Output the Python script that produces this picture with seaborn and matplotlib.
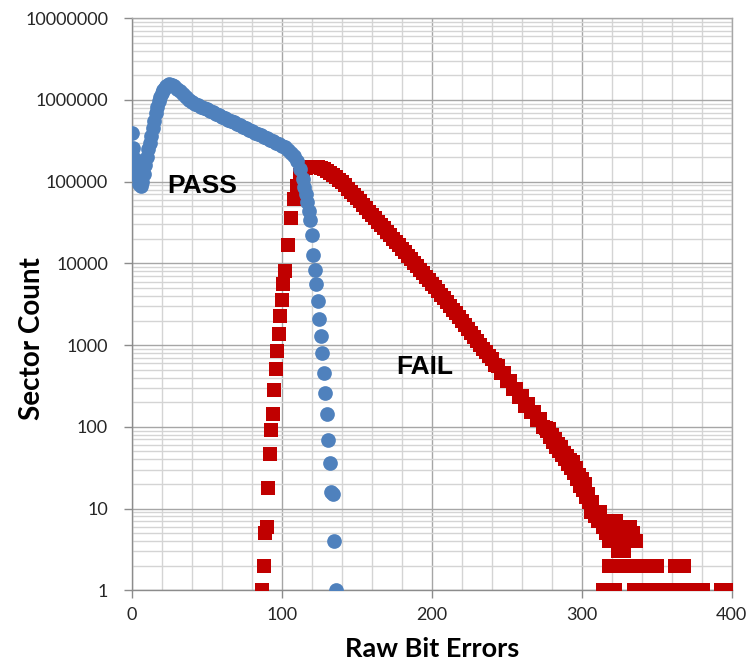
import numpy as np
import pandas as pd
import matplotlib
matplotlib.use("Agg")
import matplotlib.pyplot as plt
import seaborn as sns

# ---------------- data ----------------
pass_x = [0, 1, 2, 3, 4, 5, 6, 7, 8, 9, 10, 11, 12, 13, 14, 15, 16, 17, 18, 19,
          20, 21, 22, 23, 24, 25, 26, 27, 28, 30, 32, 34, 36, 38, 40, 42, 44, 46,
          48, 50, 52, 54, 56, 58, 60, 62, 64, 66, 68, 70, 72, 74, 76, 78, 80, 82,
          84, 86, 88, 90, 92, 94, 96, 98, 100, 102, 104, 106, 108, 110, 112, 114,
          115, 116, 117, 118, 119, 120, 121, 122, 123, 124, 125, 126, 127, 128,
          129, 130, 131, 132, 133, 134, 135, 136]
pass_y = [390000, 255000, 190000, 145000, 115000, 95000, 88000, 100000, 125000,
          160000, 200000, 250000, 300000, 360000, 450000, 560000, 690000, 830000,
          970000, 1100000, 1220000, 1330000, 1420000, 1490000, 1530000, 1550000,
          1540000, 1510000, 1470000, 1380000, 1280000, 1180000, 1090000, 1010000,
          950000, 900000, 860000, 830000, 800000, 767000, 738000, 708000, 680000,
          653000, 626000, 601000, 577000, 553000, 531000, 510000, 490000, 470000,
          451000, 433000, 416000, 399000, 383000, 368000, 353000, 340000, 326000,
          313000, 300000, 288000, 275000, 263000, 245000, 224000, 204000, 178000,
          145000, 107000, 87000, 71000, 56000, 44000, 34000, 22000, 12600, 8400,
          5560, 3470, 2110, 1290, 800, 450, 260, 145, 68, 36, 16, 15, 4, 1]

fail_x = [87, 88, 89, 90, 91, 92, 93, 94, 95, 96, 97, 98, 99, 100, 101,
          102, 104, 106, 108, 110, 112, 114, 116, 118, 120, 122, 124, 126, 128,
          130, 132, 134, 136, 138, 140, 142, 144, 146, 148, 150, 152, 154, 156,
          158, 160, 162, 164, 166, 168, 170, 172, 174, 176, 178, 180, 182, 184,
          186, 188, 190, 192, 194, 196, 198, 200, 202, 204, 206, 208, 210, 212,
          214, 216, 218, 220, 222, 224, 226, 228, 230, 232, 234, 236, 238, 240,
          242, 244, 246, 248, 250, 252, 254, 256, 258, 260, 262, 264, 266, 268,
          270, 272, 274, 276,
          277, 278, 279, 280, 281, 282, 283, 284, 285, 286, 287, 288, 289, 290,
          291, 292, 293, 294, 295, 296, 297, 298, 299, 300, 301, 302, 303, 304,
          305, 306, 307, 308, 309, 310, 311, 312, 313, 314, 315, 316, 317, 318,
          319, 320, 321, 322, 323, 324, 325, 326, 327, 328, 329, 330, 331, 332,
          333, 334, 335, 336,
          318, 320, 322, 324, 326, 328, 330, 332, 334, 336, 338, 340, 342, 344,
          346, 348, 350, 362, 364, 366, 368,
          314, 316, 318, 320, 322, 335, 337, 339, 341, 343, 345, 347, 349, 351,
          353, 355, 357, 359, 361, 363, 365, 367, 369, 371, 373, 375, 377, 379,
          381, 393, 395, 397, 399, 400]
fail_y = [1, 2, 5, 6, 18, 47, 91, 145, 285, 510, 850, 1380, 2280, 3600, 5650,
          8000, 17000, 35500, 62000, 89000, 120000, 141000, 148000, 151000,
          151000, 151000, 150000, 148000, 143000, 136000, 129000, 122000, 114000,
          106000, 98000, 90000, 82000, 75000, 69000, 63000, 57400, 52100, 47400,
          43100, 39200, 35600, 32400, 29400, 26800, 24400, 22100, 20100, 18300,
          16600, 15100, 13700, 12400, 11300, 10200, 9270, 8400, 7600, 6890, 6220,
          5620, 5080, 4590, 4150, 3750, 3390, 3030, 2720, 2440, 2180, 1950, 1750,
          1570, 1410, 1260, 1130, 1010, 908, 815, 731, 680, 570, 560, 450, 450,
          360, 360, 290, 290, 230, 235, 180, 190, 150, 150, 120, 125, 100, 98,
          90, 95, 75, 80, 65, 70, 57, 62, 50, 57, 45, 48, 40, 44,
          35, 39, 31, 37, 27, 31, 23, 26, 19, 23, 17, 20, 14, 15,
          12, 9, 12, 9, 8, 9, 7, 9, 7, 6, 7, 5, 7, 4,
          6, 7, 5, 6, 7, 3, 4, 3, 5, 3, 4, 5, 4, 6,
          4, 5, 4, 4,
          2, 2, 2, 2, 2, 2, 2, 2, 2, 2, 2, 2, 2, 2,
          2, 2, 2, 2, 2, 2, 2,
          1, 1, 1, 1, 1, 1, 1, 1, 1, 1, 1, 1, 1, 1,
          1, 1, 1, 1, 1, 1, 1, 1, 1, 1, 1, 1, 1, 1,
          1, 1, 1, 1, 1, 1]

x_ticks = [0, 100, 200, 300, 400]
x_minor = [20, 40, 60, 80, 120, 140, 160, 180, 220, 240, 260, 280, 320, 340, 360, 380]
y_ticks = [1, 10, 100, 1000, 10000, 100000, 1000000, 10000000]
y_tick_labels = ["1", "10", "100", "1000", "10000", "100000", "1000000", "10000000"]

# ---------------- plotting ----------------
sns.set_theme(style="white")
plt.rcParams["font.family"] = ["Lato", "DejaVu Sans"]

W, H = 749, 662
fig = plt.figure(figsize=(W / 100, H / 100), dpi=100)
left, right, top, bottom = 131.7, 731.7, 18.3, 590.2
ax = fig.add_axes([left / W, 1 - bottom / H, (right - left) / W, (bottom - top) / H])

fail_df = pd.DataFrame({"Raw Bit Errors": fail_x, "Sector Count": fail_y})
pass_df = pd.DataFrame({"Raw Bit Errors": pass_x, "Sector Count": pass_y})

ax.set_yscale("log")
sns.scatterplot(data=fail_df, x="Raw Bit Errors", y="Sector Count", marker="s",
                color="#C00000", s=100, linewidth=0, ax=ax, legend=False, zorder=3)
sns.scatterplot(data=pass_df, x="Raw Bit Errors", y="Sector Count", marker="o",
                color="#4F81BD", s=112, linewidth=0, ax=ax, legend=False, zorder=4)

ax.set_xlim(0, 400)
ax.set_ylim(1, 1e7)
ax.set_xticks(x_ticks)
ax.set_xticks(x_minor, minor=True)
ax.set_yticks(y_ticks)
ax.set_yticklabels(y_tick_labels)
ax.yaxis.set_minor_locator(matplotlib.ticker.LogLocator(base=10, subs=np.arange(2, 10)))
ax.yaxis.set_minor_formatter(matplotlib.ticker.NullFormatter())

ax.set_axisbelow(True)
ax.grid(which="major", color="#A6A6A6", linewidth=1.0)
ax.grid(which="minor", color="#D4D4D4", linewidth=1.0)

for side in ["top", "right"]:
    ax.spines[side].set_color("#A6A6A6")
    ax.spines[side].set_linewidth(1.0)
for side in ["left", "bottom"]:
    ax.spines[side].set_color("#8C8C8C")
    ax.spines[side].set_linewidth(1.0)

ax.tick_params(axis="y", which="major", direction="out", length=6, width=1,
               color="#8C8C8C", labelsize=13, labelcolor="#262626", pad=11, left=True)
ax.tick_params(axis="x", which="major", direction="out", length=6, width=1,
               color="#8C8C8C", labelsize=13, labelcolor="#262626", pad=6, bottom=True)
ax.tick_params(which="minor", length=0)

ax.set_xlabel("Raw Bit Errors", fontsize=19.5, fontweight="bold", color="#000000")
ax.set_ylabel("Sector Count", fontsize=20, fontweight="bold", color="#000000")
ax.xaxis.set_label_coords(0.5, -(637 - bottom) / (bottom - top))
ax.xaxis.label.set_va("top")
ax.yaxis.set_label_coords(-(left - 45) / (right - left), (bottom - 339) / (bottom - top))

ax.text(24, 88000, "PASS", fontsize=19, fontweight="bold", family="Liberation Sans",
        ha="left", va="center", color="#000000", zorder=5)
ax.text(176.7, 537, "FAIL", fontsize=19, fontweight="bold", family="Liberation Sans",
        ha="left", va="center", color="#000000", zorder=5)

fig.savefig("out.png", dpi=100)
